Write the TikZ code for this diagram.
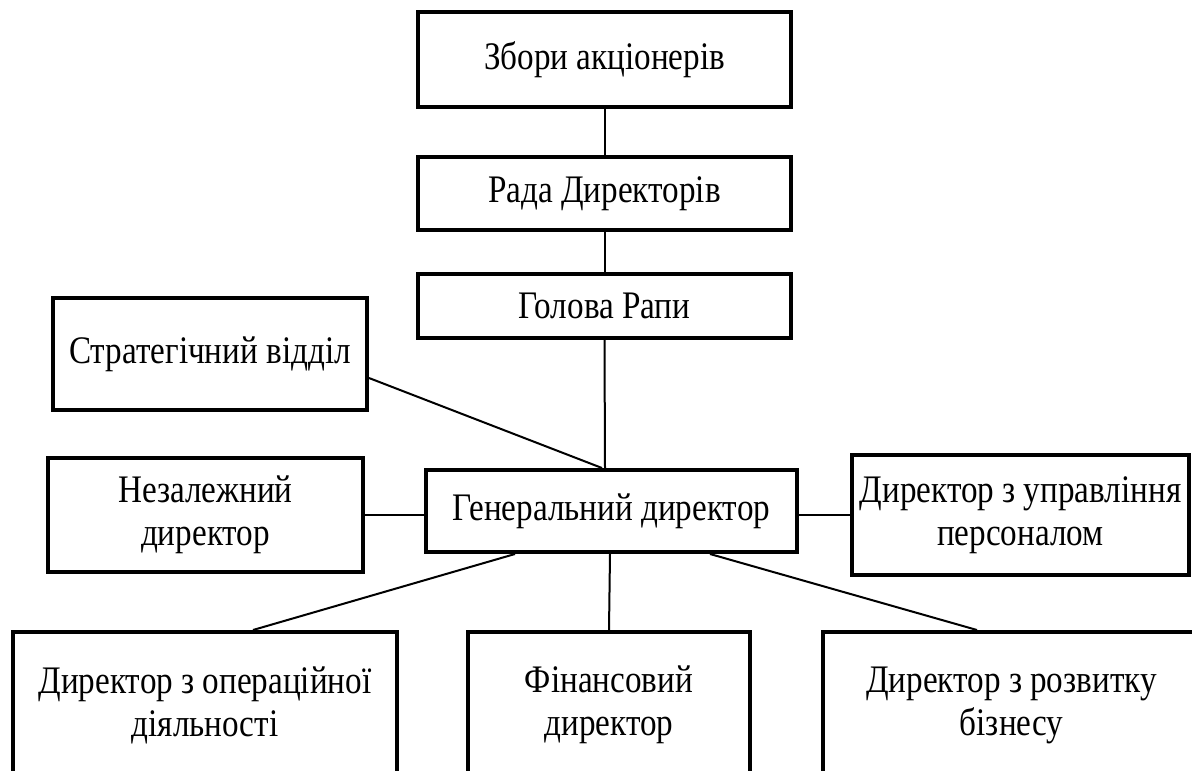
\documentclass[tikz,border=0pt]{standalone}
\usepackage{fontspec}
\setmainfont[FakeStretch=0.85]{Liberation Serif}
\usetikzlibrary{calc}
\begin{document}
\begin{tikzpicture}[x=1pt,y=-1pt,
  box/.style={draw=black,line width=4pt,rectangle,inner sep=0pt,align=center,
    font=\fontsize{39}{43}\selectfont},
  conn/.style={draw=black,line width=2pt}]
\useasboundingbox (0,0) rectangle (1192,771);
\clip (0,0) rectangle (1192,771);
% top column
\node[box,minimum width=373pt,minimum height=95pt] (b1) at (604.5,59.5) {Збори акціонерів};
\node[box,minimum width=373pt,minimum height=73pt] (b2) at (604.5,193.5) {Рада Директорів};
\node[box,minimum width=373pt,minimum height=64pt] (b3) at (604.5,306) {Голова Рапи};
% middle row
\node[box,minimum width=314pt,minimum height=112pt] (strat) at (210,354) {Стратегічний відділ};
\node[box,minimum width=315pt,minimum height=114pt] (indep) at (205.5,515) {Незалежний\\директор};
\node[box,minimum width=371pt,minimum height=82pt] (gen) at (611.5,511) {Генеральний директор};
\node[box,minimum width=337pt,minimum height=120pt] (pers) at (1020.5,515) {Директор з управління\\персоналом};
% bottom row
\node[box,minimum width=384pt,minimum height=146pt] (oper) at (205,705) {Директор з операційної\\діяльності};
\node[box,minimum width=282pt,minimum height=146pt] (fin) at (609,705) {Фінансовий\\директор};
\node[box,minimum width=377pt,minimum height=146pt] (bus) at (1011.5,705) {Директор з розвитку\\бізнесу};
% connectors
\draw[conn] (b1.south) -- (b2.north);
\draw[conn] (b2.south) -- (b3.north);
\draw[conn] (b3.south) -- ([xshift=-6.5pt]gen.north);
\draw[conn] ([yshift=-24pt]strat.east) -- ([xshift=-9.5pt]gen.north);
\draw[conn] (indep.east) -- ([yshift=-4pt]gen.west);
\draw[conn] ([yshift=-4pt]gen.east) -- (pers.west);
\draw[conn] ([xshift=-96.5pt]gen.south) -- ([xshift=48pt]oper.north);
\draw[conn] ([xshift=-1.5pt]gen.south) -- (fin.north);
\draw[conn] ([xshift=98.5pt]gen.south) -- ([xshift=-34.5pt]bus.north);
\end{tikzpicture}
\end{document}
